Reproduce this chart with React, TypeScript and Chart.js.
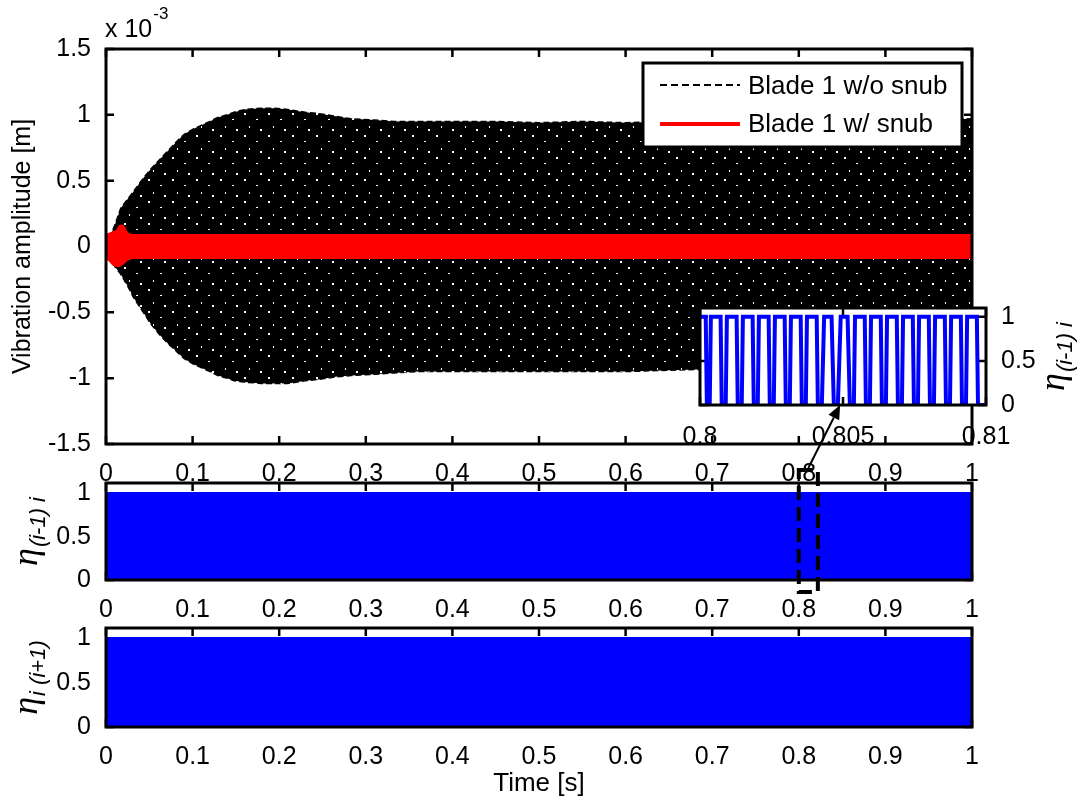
import React, { useEffect, useRef } from 'react';
import { Chart, registerables } from 'chart.js';

Chart.register(...registerables);

const W = 1084;
const H = 802;
const FONT = '"Liberation Sans", Arial, Helvetica, sans-serif';
const ETA_FONT = '"Liberation Serif", "DejaVu Serif", serif';
const TICK_SIZE = 25;

// ---- Main plot: vibration amplitude envelope (units of 1e-3 m) ----
const envTime = [0, 0.005, 0.01, 0.017, 0.025, 0.032, 0.042, 0.052, 0.062, 0.072, 0.082, 0.09, 0.1, 0.11, 0.12, 0.129, 0.14, 0.148, 0.16, 0.179, 0.195, 0.21, 0.23, 0.245, 0.265, 0.283, 0.31, 0.333, 0.36, 0.4, 0.45, 0.5, 0.55, 0.6, 0.65, 0.7, 0.75, 0.8, 0.85, 0.9, 0.95, 1.0];
const envUpper = [0, 0.08, 0.16, 0.29, 0.36, 0.42, 0.51, 0.59, 0.66, 0.73, 0.8, 0.85, 0.89, 0.92, 0.95, 0.98, 1.0, 1.02, 1.04, 1.05, 1.05, 1.04, 1.02, 1.01, 0.99, 0.97, 0.96, 0.95, 0.95, 0.95, 0.95, 0.94, 0.95, 0.94, 0.95, 0.95, 0.95, 0.94, 0.95, 0.96, 0.96, 0.97];
const envLower = [0, -0.1, -0.15, -0.21, -0.3, -0.39, -0.49, -0.59, -0.67, -0.74, -0.8, -0.85, -0.89, -0.92, -0.95, -0.98, -1.0, -1.02, -1.03, -1.04, -1.04, -1.04, -1.02, -1.01, -0.99, -0.98, -0.97, -0.96, -0.95, -0.95, -0.95, -0.95, -0.95, -0.95, -0.94, -0.93, -0.93, -0.93, -0.92, -0.92, -0.92, -0.92];

const snubTime = [0, 0.004, 0.008, 0.012, 0.016, 0.02, 0.025, 0.03, 0.05, 0.1, 0.2, 0.3, 0.4, 0.5, 0.6, 0.7, 0.8, 0.9, 1.0];
const snubUpper = [0.09, 0.1, 0.11, 0.12, 0.16, 0.16, 0.1, 0.09, 0.09, 0.09, 0.09, 0.09, 0.09, 0.09, 0.09, 0.09, 0.09, 0.09, 0.09];
const snubLower = [-0.09, -0.11, -0.14, -0.15, -0.15, -0.13, -0.1, -0.09, -0.09, -0.09, -0.09, -0.09, -0.09, -0.09, -0.09, -0.09, -0.09, -0.09, -0.09];

const timeTicks = [0, 0.1, 0.2, 0.3, 0.4, 0.5, 0.6, 0.7, 0.8, 0.9, 1];
const timeTickLabels = ['0', '0.1', '0.2', '0.3', '0.4', '0.5', '0.6', '0.7', '0.8', '0.9', '1'];
const ampTicks = [-1.5, -1, -0.5, 0, 0.5, 1, 1.5];
const ampTickLabels = ['-1.5', '-1', '-0.5', '0', '0.5', '1', '1.5'];
const legendLabels = ['Blade 1 w/o snub', 'Blade 1 w/ snub'];

// ---- Contact indicators ----
const etaTicks = [0, 0.5, 1];
const etaTickLabels = ['0', '0.5', '1'];
const contactTime = [0, 1];
const contactPrev = [1, 1];
const contactNext = [1, 1];

// ---- Inset: zoom of eta_(i-1) i between 0.8 and 0.81 s ----
const insetTime = [
  0.8, 0.8002, 0.80024,
  0.80034, 0.80038, 0.80072, 0.80076,
  0.8009, 0.80094, 0.80128, 0.80132,
  0.80146, 0.8015, 0.80184, 0.80188,
  0.80202, 0.80206, 0.8024, 0.80244,
  0.80258, 0.80262, 0.80296, 0.803,
  0.80314, 0.80318, 0.80352, 0.80356,
  0.8037, 0.80374, 0.80408, 0.80412,
  0.80426, 0.80434, 0.8046, 0.80468,
  0.80482, 0.80492, 0.80516, 0.80524,
  0.80538, 0.80542, 0.80576, 0.8058,
  0.80594, 0.80598, 0.80632, 0.80636,
  0.8065, 0.80654, 0.80688, 0.80692,
  0.80706, 0.8071, 0.80744, 0.80748,
  0.80762, 0.80766, 0.808, 0.80804,
  0.80818, 0.80822, 0.80856, 0.8086,
  0.80874, 0.80878, 0.80912, 0.80916,
  0.8093, 0.80934, 0.80968, 0.80972,
  0.81,
];
const insetEta = [
  1, 1, 0,
  0, 1, 1, 0,
  0, 1, 1, 0,
  0, 1, 1, 0,
  0, 1, 1, 0,
  0, 1, 1, 0,
  0, 1, 1, 0,
  0, 1, 1, 0,
  0, 1, 1, 0,
  0, 1, 1, 0,
  0, 1, 1, 0,
  0, 1, 1, 0,
  0, 1, 1, 0,
  0, 1, 1, 0,
  0, 1, 1, 0,
  0, 1, 1, 0,
  0, 1, 1, 0,
  0, 1, 1, 0,
  0,
];
const insetTicks = [0.8, 0.805, 0.81];
const insetTickLabels = ['0.8', '0.805', '0.81'];
const zoomWindow = [0.8, 0.822];
const arrowTarget = 0.8049;

const zip = (xs: number[], ys: number[]) => xs.map((x, i) => ({ x, y: ys[i] }));

function speckle(): CanvasPattern | string {
  const c = document.createElement('canvas');
  c.width = 24;
  c.height = 22;
  const g = c.getContext('2d');
  if (!g) return '#000';
  g.fillStyle = '#000';
  g.fillRect(0, 0, 24, 22);
  g.fillStyle = '#fff';
  g.fillRect(4, 3, 2, 2);
  g.fillRect(16, 9, 2, 1);
  g.fillRect(9, 16, 1, 2);
  g.fillRect(20, 19, 2, 2);
  const p = g.createPattern(c, 'repeat');
  return p || '#000';
}

function fixedScale(min: number, max: number, vals: number[], labels: string[], extra: any, pad = 7) {
  return {
    type: 'linear',
    min,
    max,
    afterBuildTicks: (s: any) => {
      s.ticks = vals.map((v) => ({ value: v }));
    },
    ticks: {
      callback: (_v: any, i: number) => labels[i],
      font: { family: FONT, size: TICK_SIZE },
      color: '#000',
      padding: pad,
      autoSkip: false,
      maxRotation: 0,
      minRotation: 0,
    },
    grid: { display: false },
    border: { display: false },
    ...extra,
  };
}

const boxPlugin = {
  id: 'matBox',
  beforeDatasetsDraw(chart: any) {
    const { ctx, chartArea, scales } = chart;
    const { left, right, top, bottom } = chartArea;
    const xs = scales.x;
    const ys = scales.y;
    const tl = 8;
    ctx.save();
    ctx.strokeStyle = '#000';
    ctx.lineWidth = 2.5;
    ctx.beginPath();
    xs.ticks.forEach((t: any) => {
      const p = xs.getPixelForValue(t.value);
      ctx.moveTo(p, bottom);
      ctx.lineTo(p, bottom - tl);
      ctx.moveTo(p, top);
      ctx.lineTo(p, top + tl);
    });
    ys.ticks.forEach((t: any) => {
      const p = ys.getPixelForValue(t.value);
      ctx.moveTo(left, p);
      ctx.lineTo(left + tl, p);
      ctx.moveTo(right, p);
      ctx.lineTo(right - tl, p);
    });
    ctx.stroke();
    ctx.restore();
  },
  afterDatasetsDraw(chart: any) {
    const { ctx, chartArea } = chart;
    const { left, right, top, bottom } = chartArea;
    ctx.save();
    ctx.strokeStyle = '#000';
    ctx.lineWidth = 3;
    ctx.setLineDash([]);
    ctx.strokeRect(left, top, right - left, bottom - top);
    ctx.restore();
  },
};

function drawEta(ctx: CanvasRenderingContext2D, bx: number, cy: number, sub: string) {
  ctx.save();
  ctx.translate(bx, cy);
  ctx.rotate(-Math.PI / 2);
  const f1 = `italic 36px ${ETA_FONT}`;
  const f2 = `italic 22px ${FONT}`;
  ctx.font = f1;
  const w1 = ctx.measureText('η').width;
  ctx.font = f2;
  const w2 = ctx.measureText(sub).width;
  const start = -(w1 + w2 + 1) / 2;
  ctx.fillStyle = '#000';
  ctx.textAlign = 'left';
  ctx.textBaseline = 'alphabetic';
  ctx.font = f1;
  ctx.fillText('η', start, 0);
  ctx.font = f2;
  ctx.fillText(sub, start + w1 + 1, 8);
  ctx.restore();
}

function baseOptions(padding: any, x: any, y: any) {
  return {
    responsive: false,
    animation: false,
    devicePixelRatio: 1,
    layout: { padding },
    scales: { x, y },
    plugins: { legend: { display: false }, tooltip: { enabled: false } },
    elements: { point: { radius: 0 }, line: { tension: 0 } },
  };
}

export default function App() {
  const r1 = useRef<HTMLCanvasElement>(null);
  const r2 = useRef<HTMLCanvasElement>(null);
  const r3 = useRef<HTMLCanvasElement>(null);
  const r4 = useRef<HTMLCanvasElement>(null);

  useEffect(() => {
    const charts: Chart[] = [];

    // ---------- main chart ----------
    const mainText = {
      id: 'mainText',
      afterDraw(chart: any) {
        const { ctx, chartArea } = chart;
        const { left, right, top, bottom } = chartArea;
        ctx.save();
        ctx.fillStyle = '#000';
        ctx.textAlign = 'left';
        ctx.textBaseline = 'alphabetic';
        ctx.font = `25px ${FONT}`;
        ctx.fillText('x 10', left - 1, top - 12);
        const w = ctx.measureText('x 10').width;
        ctx.font = `17px ${FONT}`;
        ctx.fillText('-3', left + w, top - 30);
        ctx.restore();

        ctx.save();
        ctx.translate(30, (top + bottom) / 2);
        ctx.rotate(-Math.PI / 2);
        ctx.fillStyle = '#000';
        ctx.textAlign = 'center';
        ctx.textBaseline = 'alphabetic';
        ctx.font = `25px ${FONT}`;
        ctx.fillText('Vibration amplitude [m]', 0, 0);
        ctx.restore();

        // legend
        const bw = 319;
        const bh = 84;
        const bx = right - 10 - bw;
        const by = top + 14;
        ctx.save();
        ctx.fillStyle = '#fff';
        ctx.fillRect(bx, by, bw, bh);
        ctx.strokeStyle = '#000';
        ctx.lineWidth = 3;
        ctx.strokeRect(bx, by, bw, bh);
        const rows = [by + 22, by + 61];
        ctx.beginPath();
        ctx.setLineDash([7, 4]);
        ctx.lineWidth = 2;
        ctx.strokeStyle = '#000';
        ctx.moveTo(bx + 17, rows[0]);
        ctx.lineTo(bx + 97, rows[0]);
        ctx.stroke();
        ctx.beginPath();
        ctx.setLineDash([]);
        ctx.lineWidth = 4;
        ctx.strokeStyle = '#ff0000';
        ctx.moveTo(bx + 17, rows[1]);
        ctx.lineTo(bx + 97, rows[1]);
        ctx.stroke();
        ctx.fillStyle = '#000';
        ctx.font = `26px ${FONT}`;
        ctx.textBaseline = 'middle';
        ctx.textAlign = 'left';
        ctx.fillText(legendLabels[0], bx + 105, rows[0] + 2);
        ctx.fillText(legendLabels[1], bx + 105, rows[1] + 1);
        ctx.restore();
      },
    };

    const main = new Chart(r1.current as HTMLCanvasElement, {
      type: 'line',
      data: {
        datasets: [
          {
            label: legendLabels[1] + ' upper',
            data: zip(snubTime, snubUpper),
            borderColor: '#ff0000',
            borderWidth: 1.5,
            backgroundColor: '#ff0000',
            fill: '+1',
          },
          {
            label: legendLabels[1] + ' lower',
            data: zip(snubTime, snubLower),
            borderColor: '#ff0000',
            borderWidth: 1.5,
            fill: false,
          },
          {
            label: legendLabels[0] + ' upper',
            data: zip(envTime, envUpper),
            borderColor: '#000',
            borderWidth: 1.5,
            borderDash: [6, 3],
            backgroundColor: speckle(),
            fill: '+1',
          },
          {
            label: legendLabels[0] + ' lower',
            data: zip(envTime, envLower),
            borderColor: '#000',
            borderWidth: 1.5,
            borderDash: [6, 3],
            fill: false,
          },
        ],
      },
      options: baseOptions(
        { left: 46, right: 112, top: 49, bottom: H - 444 - 40 },
        fixedScale(0, 1, timeTicks, timeTickLabels, { afterFit: (s: any) => { s.height = 40; } }),
        fixedScale(-1.5, 1.5, ampTicks, ampTickLabels, { afterFit: (s: any) => { s.width = 60; } }),
      ) as any,
      plugins: [boxPlugin, mainText],
    });
    charts.push(main);

    // ---------- second chart (eta (i-1) i) ----------
    const zoomRect = {
      id: 'zoomRect',
      afterDraw(chart: any) {
        const { ctx, chartArea, scales } = chart;
        const x0 = scales.x.getPixelForValue(zoomWindow[0]);
        const x1 = scales.x.getPixelForValue(zoomWindow[1]);
        ctx.save();
        ctx.strokeStyle = '#000';
        ctx.lineWidth = 4;
        ctx.setLineDash([14, 7]);
        ctx.strokeRect(x0, chartArea.top - 13, x1 - x0, chartArea.bottom - chartArea.top + 25);
        ctx.restore();
        drawEta(ctx, 37, (chartArea.top + chartArea.bottom) / 2, '(i-1) i');
      },
    };
    const second = new Chart(r2.current as HTMLCanvasElement, {
      type: 'line',
      data: {
        datasets: [
          {
            label: 'eta (i-1) i',
            data: zip(contactTime, contactPrev),
            borderColor: '#0000ff',
            backgroundColor: '#0000ff',
            borderWidth: 3,
            fill: 'origin',
          },
        ],
      },
      options: baseOptions(
        { left: 46, right: 112, top: 483, bottom: H - 580 - 40 },
        fixedScale(0, 1, timeTicks, timeTickLabels, { afterFit: (s: any) => { s.height = 40; } }),
        fixedScale(0, 1.12, etaTicks, etaTickLabels, { afterFit: (s: any) => { s.width = 60; } }),
      ) as any,
      plugins: [boxPlugin, zoomRect],
    });
    charts.push(second);

    // ---------- third chart (eta i (i+1)) ----------
    const thirdText = {
      id: 'thirdText',
      afterDraw(chart: any) {
        const { ctx, chartArea } = chart;
        drawEta(ctx, 37, (chartArea.top + chartArea.bottom) / 2, 'i (i+1)');
        ctx.save();
        ctx.fillStyle = '#000';
        ctx.textAlign = 'center';
        ctx.textBaseline = 'alphabetic';
        ctx.font = `26px ${FONT}`;
        ctx.fillText('Time [s]', (chartArea.left + chartArea.right) / 2, 791);
        ctx.restore();
      },
    };
    const third = new Chart(r3.current as HTMLCanvasElement, {
      type: 'line',
      data: {
        datasets: [
          {
            label: 'eta i (i+1)',
            data: zip(contactTime, contactNext),
            borderColor: '#0000ff',
            backgroundColor: '#0000ff',
            borderWidth: 3,
            fill: 'origin',
          },
        ],
      },
      options: baseOptions(
        { left: 46, right: 112, top: 628, bottom: H - 727 - 40 },
        fixedScale(0, 1, timeTicks, timeTickLabels, { afterFit: (s: any) => { s.height = 40; } }),
        fixedScale(0, 1.12, etaTicks, etaTickLabels, { afterFit: (s: any) => { s.width = 60; } }),
      ) as any,
      plugins: [boxPlugin, thirdText],
    });
    charts.push(third);

    // ---------- inset ----------
    const insetDeco = {
      id: 'insetDeco',
      beforeDraw(chart: any) {
        const { ctx, chartArea } = chart;
        ctx.save();
        ctx.fillStyle = '#fff';
        ctx.fillRect(chartArea.left, chartArea.top, chartArea.right - chartArea.left, chartArea.bottom - chartArea.top);
        ctx.restore();
      },
      afterDraw(chart: any) {
        const { ctx, chartArea, scales } = chart;
        drawEta(ctx, 1064, (chartArea.top + chartArea.bottom) / 2, '(i-1) i');
        const sx = second.scales.x.getPixelForValue((zoomWindow[0] + zoomWindow[1]) / 2);
        const sy = second.chartArea.top - 15;
        const hx = scales.x.getPixelForValue(arrowTarget);
        const hy = scales.y.getPixelForValue(0);
        const ang = Math.atan2(hy - sy, hx - sx);
        const hl = 14;
        const hw = 6;
        ctx.save();
        ctx.strokeStyle = '#000';
        ctx.fillStyle = '#000';
        ctx.lineWidth = 2;
        ctx.beginPath();
        ctx.moveTo(sx, sy);
        ctx.lineTo(hx - Math.cos(ang) * hl, hy - Math.sin(ang) * hl);
        ctx.stroke();
        ctx.beginPath();
        ctx.moveTo(hx, hy);
        ctx.lineTo(hx - Math.cos(ang) * hl - Math.sin(ang) * hw, hy - Math.sin(ang) * hl + Math.cos(ang) * hw);
        ctx.lineTo(hx - Math.cos(ang) * hl + Math.sin(ang) * hw, hy - Math.sin(ang) * hl - Math.cos(ang) * hw);
        ctx.closePath();
        ctx.fill();
        ctx.restore();
      },
    };
    const inset = new Chart(r4.current as HTMLCanvasElement, {
      type: 'line',
      data: {
        datasets: [
          {
            label: 'eta (i-1) i zoom',
            data: zip(insetTime, insetEta),
            borderColor: '#0000ff',
            borderWidth: 4,
            fill: false,
          },
        ],
      },
      options: baseOptions(
        { left: 700, right: 40, top: 308, bottom: H - 405 - 45 },
        fixedScale(0.8, 0.81, insetTicks, insetTickLabels, { afterFit: (s: any) => { s.height = 45; } }, 9),
        fixedScale(0, 1.1, etaTicks, etaTickLabels, { position: 'right', afterFit: (s: any) => { s.width = 58; } }),
      ) as any,
      plugins: [boxPlugin, insetDeco],
    });
    charts.push(inset);

    return () => charts.forEach((c) => c.destroy());
  }, []);

  const cs: React.CSSProperties = { position: 'absolute', left: 0, top: 0, width: W, height: H };
  return (
    <div style={{ position: 'absolute', left: 0, top: 0, width: W, height: H, background: '#fff' }}>
      <canvas ref={r1} width={W} height={H} style={cs} />
      <canvas ref={r2} width={W} height={H} style={cs} />
      <canvas ref={r3} width={W} height={H} style={cs} />
      <canvas ref={r4} width={W} height={H} style={cs} />
    </div>
  );
}
